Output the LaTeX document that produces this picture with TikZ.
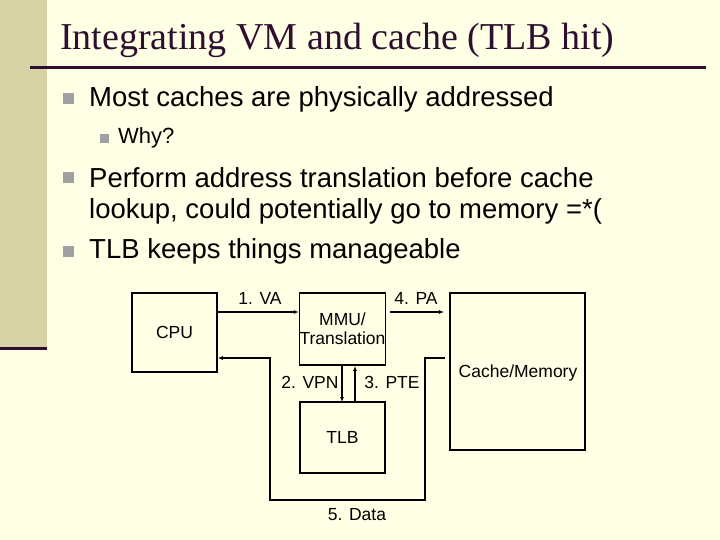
\documentclass[tikz,border=0pt]{standalone}
\usepackage{fontspec}
\setmainfont{Liberation Serif}
\newfontfamily\arialf{Liberation Sans}
\begin{document}
\begin{tikzpicture}[x=1pt,y=-1pt,
  box/.style={draw=black,line width=1.5pt,minimum width=85pt,minimum height=72pt,inner sep=0pt,font=\arialf\fontsize{17.5}{19}\selectfont,align=center},
  lbl/.style={font=\arialf\fontsize{17.5}{19}\selectfont,inner sep=1pt},
  bul/.style={font=\arialf\fontsize{27.5}{30}\selectfont,anchor=west,inner sep=0pt},
  conn/.style={line width=1.5pt,-{Latex[length=5pt,width=4pt]}}]
\usetikzlibrary{arrows.meta}
\fill[fill={rgb,255:red,255;green,255;blue,229}] (0,0) rectangle (720,540);
\useasboundingbox (0,0) rectangle (720,540);
\fill[fill={rgb,255:red,214;green,211;blue,164}] (0,0) rectangle (47,348);
\draw[line width=3pt,draw={rgb,255:red,47;green,15;blue,47}] (0,348) -- (47,348);
\draw[line width=3pt,draw={rgb,255:red,47;green,15;blue,47}] (30,68) -- (706,68);
\node[anchor=base west,inner sep=0pt,font=\fontsize{38}{42}\selectfont,text={rgb,255:red,47;green,15;blue,47}] (title) at (60,50) {Integrating VM and cache (TLB hit)};
\tikzset{sq/.style={fill={rgb,255:red,160;green,160;blue,160}}}
\fill[sq] (63,93) rectangle (74,104);
\node[bul] (b1) at (89,99) {Most caches are physically addressed};
\fill[sq] (100,134) rectangle (109,143);
\node[bul,font=\arialf\fontsize{22}{26}\selectfont] (b2) at (118,138) {Why?};
\fill[sq] (63,172) rectangle (74,183);
\node[bul] (b3) at (89,178) {Perform address translation before cache};
\node[bul] (b3b) at (89,211) {lookup, could potentially go to memory =*(};
\fill[sq] (63,246) rectangle (74,257);
\node[bul] (b4) at (89,251) {TLB keeps things manageable};
\node[box,minimum height=79pt] (cpu) at (174.5,332.5) {CPU};
\node[box] (mmu) at (342.5,329) {MMU/\\Translation};
\node[box,minimum height=71pt] (tlb) at (342.5,437.5) {TLB};
\node[box,minimum width=135pt,minimum height=157pt] (mem) at (517.5,371.5) {};
\node[lbl] (memt) at (518,373) {Cache/Memory};
\draw[conn] (cpu.east |- 0,312) -- (mmu.west |- 0,312);
\node[lbl] (va) at (260,298) {1. VA};
\coordinate (pa0) at (390,312);
\coordinate (pa1) at (444,312);
\draw[conn] (pa0) -- (pa1);
\node[lbl] (pa) at (416,298) {4. PA};
\draw[conn] (342,366) -- (342,402);
\draw[conn] (355,402) -- (355,366);
\node[lbl] (vpn) at (310,382) {2. VPN};
\node[lbl] (pte) at (392,382) {3. PTE};
\coordinate (d0) at (445,358);
\draw[conn] (d0) -- (425,358) -- (425,500) -- (270,500) -- (270,358) -- (cpu.east |- 0,358);
\node[lbl] (data) at (357,515) {5. Data};
\end{tikzpicture}
\end{document}
